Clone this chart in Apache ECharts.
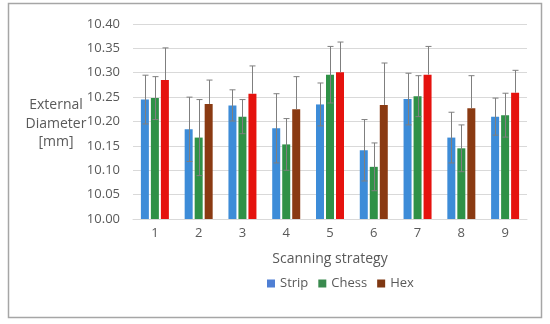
<!DOCTYPE html>
<html><head><meta charset="utf-8">
<script src="https://cdn.jsdelivr.net/npm/echarts@6/dist/echarts.min.js"></script>
<style>html,body{margin:0;padding:0;background:#fff}#c{width:550px;height:324px}</style>
</head><body><div id="c"></div>
<script>
const categories = ['1','2','3','4','5','6','7','8','9'];
const seriesNames = ['Strip','Chess','Hex'];
const stripValues = [10.245,10.184,10.233,10.186,10.235,10.141,10.246,10.167,10.210];
const chessValues = [10.248,10.167,10.210,10.153,10.296,10.107,10.252,10.145,10.213];
const hexValues   = [10.285,10.236,10.257,10.225,10.301,10.234,10.296,10.227,10.259];
const stripErr = [0.050,0.066,0.032,0.071,0.044,0.063,0.053,0.052,0.038];
const chessErr = [0.044,0.078,0.035,0.053,0.058,0.049,0.042,0.048,0.045];
const hexErr   = [0.066,0.049,0.057,0.067,0.062,0.086,0.058,0.067,0.046];
const yTicks = ['10.00','10.05','10.10','10.15','10.20','10.25','10.30','10.35','10.40'];

const values = [stripValues, chessValues, hexValues];
const errs = [stripErr, chessErr, hexErr];
const colors = ['#3d8cd8', '#2f9147', '#8a3a12'];
const legendColors = ['#4f7fd4', '#3a8a4e', '#7f3812'];
const hexBright = '#e5120e';
const BW = 8, GAP = 2;

const barSeries = seriesNames.map((n, si) => ({
  name: n, type: 'bar', barWidth: BW, barGap: '25%',
  itemStyle: { color: colors[si] },
  data: values[si].map((v, i) => (si === 2 && i % 2 === 0) ? { value: v, itemStyle: { color: hexBright } } : v),
  z: 2
}));

const errData = [];
values.forEach((arr, si) => arr.forEach((v, i) => errData.push([i, si, v, errs[si][i]])));

const errSeries = {
  type: 'custom', name: 'err', silent: true, z: 5,
  data: errData,
  encode: { x: 0, y: 2 },
  renderItem: function (params, api) {
    const ci = api.value(0), si = api.value(1), v = api.value(2), e = api.value(3);
    const off = (si - 1) * (BW + GAP);
    const top = api.coord([ci, v + e]);
    const mid = api.coord([ci, v]);
    const bot = api.coord([ci, v - e]);
    const x = Math.round(top[0] + off) + 0.5;
    const lowY = si === 2 ? mid[1] : bot[1];
    const children = [
      { type: 'line', shape: { x1: x, y1: top[1], x2: x, y2: lowY }, style: { stroke: '#7f7f7f', lineWidth: 1 } },
      { type: 'line', shape: { x1: x - 3, y1: top[1], x2: x + 3, y2: top[1] }, style: { stroke: '#7f7f7f', lineWidth: 1 } }
    ];
    if (si !== 2) children.push({ type: 'line', shape: { x1: x - 3, y1: bot[1], x2: x + 3, y2: bot[1] }, style: { stroke: '#7f7f7f', lineWidth: 1 } });
    return { type: 'group', children };
  }
};

const chart = echarts.init(document.getElementById('c'), null, { renderer: 'canvas' });
chart.setOption({
  animation: false,
  backgroundColor: '#fff',
  textStyle: { fontFamily: '"Open Sans", sans-serif' },
  grid: { left: 133, right: 23, top: 24, bottom: 105, containLabel: false },
  graphic: [
    { type: 'rect', shape: { x: 8.5, y: 3.5, width: 533, height: 314 }, style: { fill: 'none', stroke: '#a6a6a6', lineWidth: 1.5 }, z: -1 },
    { type: 'text', x: 56, y: 96, style: { text: 'External\nDiameter\n[mm]', font: '14px "Open Sans", sans-serif', fill: '#595959', lineHeight: 18.5, align: 'center', verticalAlign: 'top' } }
  ],
  legend: {
    bottom: 29, left: 262, itemWidth: 8, itemHeight: 8, itemGap: 10,
    icon: 'rect',
    textStyle: { color: '#595959', fontSize: 13, fontFamily: '"Open Sans", sans-serif' },
    data: seriesNames.map((n, si) => ({ name: n, itemStyle: { color: legendColors[si] } }))
  },
  xAxis: {
    type: 'category', data: categories,
    name: 'Scanning strategy', nameLocation: 'middle', nameGap: 33,
    nameTextStyle: { color: '#595959', fontSize: 14, fontFamily: '"Open Sans", sans-serif' },
    axisLine: { lineStyle: { color: '#d9d9d9' } },
    axisTick: { show: false },
    axisLabel: { color: '#595959', fontSize: 13, margin: 8, fontFamily: '"Open Sans", sans-serif' }
  },
  yAxis: {
    type: 'value', min: 10, max: 10.4, interval: 0.05,
    axisLine: { show: false }, axisTick: { show: false },
    splitLine: { lineStyle: { color: '#d9d9d9' } },
    axisLabel: { color: '#595959', fontSize: 13, margin: 13, fontFamily: '"Open Sans", sans-serif',
      formatter: (v) => yTicks[Math.round((v - 10) / 0.05)] }
  },
  series: [...barSeries, errSeries]
});
</script></body></html>
